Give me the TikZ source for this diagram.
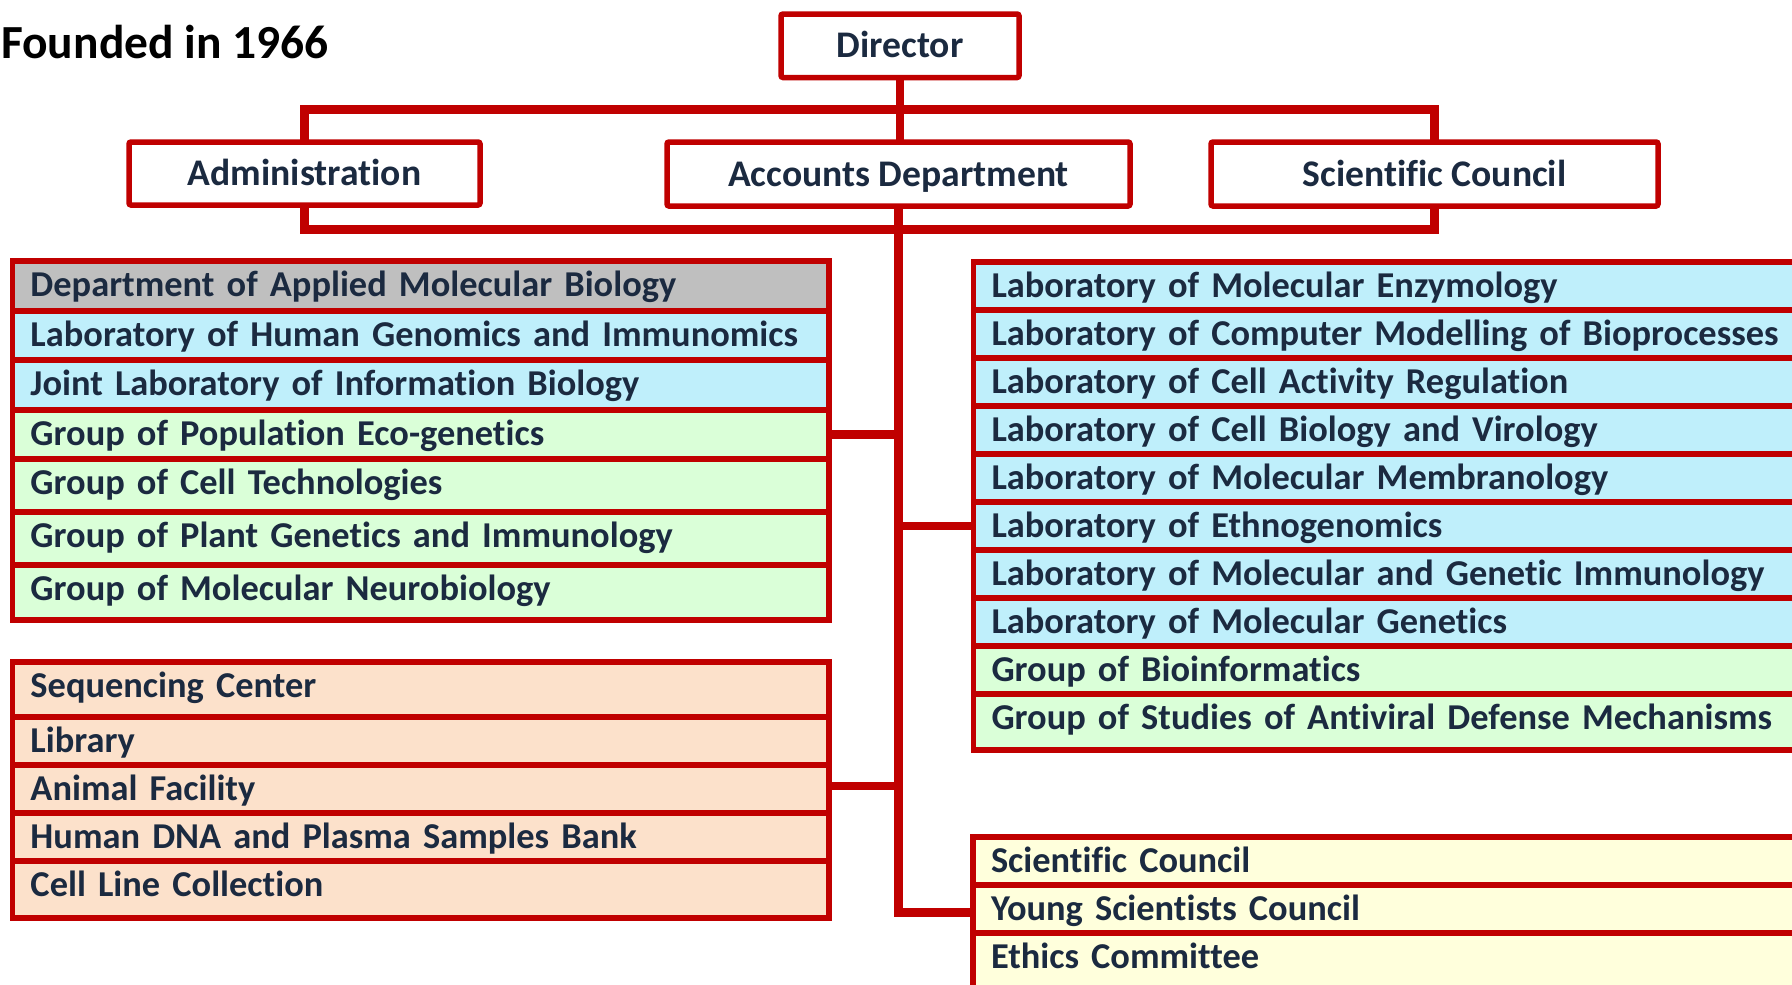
\documentclass[tikz,border=0pt]{standalone}
\usepackage{fontspec}
\setmainfont{Carlito}[Ligatures=NoCommon]
\usetikzlibrary{calc}
\definecolor{cred}{HTML}{C00000}
\definecolor{ctext}{HTML}{1B2A40}
\definecolor{cgray}{HTML}{BFBFBF}
\definecolor{cblue}{HTML}{BFEFFB}
\definecolor{cgreen}{HTML}{DAFFD8}
\definecolor{cpeach}{HTML}{FCE1CB}
\definecolor{cyell}{HTML}{FFFFDC}
\tikzset{
  cellbox/.style={draw=cred, line width=5.5pt, inner xsep=18pt, inner ysep=0pt, outer sep=0pt,
    text height=35.5pt, align=left, anchor=north west, text=ctext,
    font=\bfseries\fontsize{36.4}{40}\selectfont},
  hdr/.style={draw=cred, line width=5.5pt, rounded corners=2pt, inner sep=0pt, outer sep=0pt,
    text height=24pt, text depth=0pt, fill=white, text=ctext,
    font=\bfseries\fontsize{37.6}{42}\selectfont},
  conn/.style={draw=cred, line width=8.5pt, line join=miter}
}
\newcommand\mycell[7]{%
  \pgfmathsetmacro\mydd{#4-35.5}%
  \pgfmathsetmacro\mytw{#5-36}%
  \node[cellbox, fill=#6, text width=\mytw pt, text depth=\mydd pt] (#1) at (#2,#3) {#7};%
}
\begin{document}
\begin{tikzpicture}[x=1pt,y=-1pt]
\useasboundingbox (0,0) rectangle (1792,985);
\clip (0,0) rectangle (1792,985);
\fill[white] (0,0) rectangle (1792,985);

\node[anchor=base west, inner sep=0pt, font=\bfseries\fontsize{47.5}{52}\selectfont] (founded) at (1,58) {Founded in 1966};

% header boxes
\node[hdr, minimum width=238pt, minimum height=63.5pt] (dir) at (900,45.75) {Director};
\node[hdr, minimum width=351pt, minimum height=63pt] (adm) at (304.5,173.5) {Administration};
\node[hdr, minimum width=463pt, minimum height=64pt] (acc) at (898.5,174) {Accounts Department};
\node[hdr, minimum width=447pt, minimum height=64pt] (sc) at (1434.5,174) {Scientific Council};

% left list 1
\mycell{dam}{12.5}{261}{50}{816.5}{cgray}{Department of Applied Molecular Biology}
\mycell{lhg}{12.5}{311}{49}{816.5}{cblue}{Laboratory of Human Genomics and Immunomics}
\mycell{jlib}{12.5}{360}{50}{816.5}{cblue}{Joint Laboratory of Information Biology}
\mycell{gpe}{12.5}{410}{49}{816.5}{cgreen}{Group of Population Eco-genetics}
\mycell{gct}{12.5}{459}{53}{816.5}{cgreen}{Group of Cell Technologies}
\mycell{gpg}{12.5}{512}{53}{816.5}{cgreen}{Group of Plant Genetics and Immunology}
\mycell{gmn}{12.5}{565}{55}{816.5}{cgreen}{Group of Molecular Neurobiology}

% left list 2
\mycell{seq}{12.5}{662}{55}{816.5}{cpeach}{Sequencing Center}
\mycell{lib}{12.5}{717}{48}{816.5}{cpeach}{Library}
\mycell{af}{12.5}{765}{48}{816.5}{cpeach}{Animal Facility}
\mycell{hdna}{12.5}{813}{48}{816.5}{cpeach}{Human DNA and Plasma Samples Bank}
\mycell{cll}{12.5}{861}{57}{816.5}{cpeach}{Cell Line Collection}

% right list
\mycell{lme}{973.5}{262}{48}{830}{cblue}{Laboratory of Molecular Enzymology}
\mycell{lcm}{973.5}{310}{48}{830}{cblue}{Laboratory of Computer Modelling of Bioprocesses}
\mycell{lcar}{973.5}{358}{48}{830}{cblue}{Laboratory of Cell Activity Regulation}
\mycell{lcbv}{973.5}{406}{48}{830}{cblue}{Laboratory of Cell Biology and Virology}
\mycell{lmm}{973.5}{454}{48}{830}{cblue}{Laboratory of Molecular Membranology}
\mycell{leth}{973.5}{502}{48}{830}{cblue}{Laboratory of Ethnogenomics}
\mycell{lmgi}{973.5}{550}{48}{830}{cblue}{Laboratory of Molecular and Genetic Immunology}
\mycell{lmg}{973.5}{598}{48}{830}{cblue}{Laboratory of Molecular Genetics}
\mycell{gbi}{973.5}{646}{48}{830}{cgreen}{Group of Bioinformatics}
\mycell{gsad}{973.5}{694}{56}{830}{cgreen}{Group of Studies of Antiviral Defense Mechanisms}

% councils
\mycell{scl}{973}{837}{48}{830}{cyell}{Scientific Council}
\mycell{ysc}{973}{885}{48}{830}{cyell}{Young Scientists Council}
\mycell{ethc}{973}{933}{60}{830}{cyell}{Ethics Committee}

% connectors
\coordinate (tb) at (898.5,109.5);
\coordinate (bb) at (898.5,229.5);
\coordinate (mb) at (898.5,912.5);
\draw[conn] (dir.south) -- (dir.south |- acc.north);
\draw[conn] (adm.north) |- (tb) -| (sc.north);
\draw[conn] (adm.south) |- (bb) -| (sc.south);
\draw[conn] (acc.south) -- (mb) -- (mb -| ysc.west);
\draw[conn] (gpe.east) -- (gpe.east -| mb);
\draw[conn] ($(af.east)+(0,3pt)$) -- ($(af.east -| mb)+(0,3pt)$);
\draw[conn] (leth.west) -- (leth.west -| mb);
\end{tikzpicture}
\end{document}
